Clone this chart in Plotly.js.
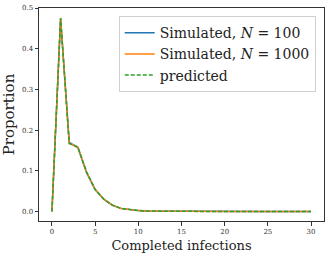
<!DOCTYPE html>
<html>
<head>
<meta charset="utf-8">
<script src="https://cdn.plot.ly/plotly-3.0.1.min.js"></script>
<style>html,body{margin:0;padding:0;background:#fff;}#chart{width:333px;height:257px;}</style>
</head>
<body>
<div id="chart"></div>
<script>
const completed = [0,1,2,3,4,5,6,7,8,9,10,11,12,13,14,15,16,17,18,19,20,21,22,23,24,25,26,27,28,29,30];
const simulated100 = [0,0.474,0.170,0.157,0.096,0.054,0.030,0.015,0.0075,0.004,0.002,0.001,0.0008,0.0005,0.0003,0.0001,0.0001,0,0,0,0,0,0,0,0,0,0,0,0,0,0];
const simulated1000 = [0,0.475,0.167,0.158,0.097,0.054,0.030,0.0155,0.0074,0.004,0.002,0.001,0.0007,0.0004,0.0002,0.0001,0.0001,0,0,0,0,0,0,0,0,0,0,0,0,0,0];
const predicted = [0,0.475,0.167,0.158,0.0975,0.054,0.030,0.0155,0.0074,0.004,0.002,0.001,0.0006,0.0003,0.0002,0.0001,0.0001,0,0,0,0,0,0,0,0,0,0,0,0,0,0];
const seriesNames = ["Simulated, <i>N</i> = 100", "Simulated, <i>N</i> = 1000", "predicted"];
const xTicks = [0,5,10,15,20,25,30];
const yTicks = [0.0,0.1,0.2,0.3,0.4,0.5];

const serif = "DejaVu Serif";
const traces = [
  {x: completed, y: simulated100, name: seriesNames[0], mode: "lines", line: {color: "#1f77b4", width: 1.5}},
  {x: completed, y: simulated1000, name: seriesNames[1], mode: "lines", line: {color: "#ff7f0e", width: 1.5}},
  {x: completed, y: predicted, name: seriesNames[2], mode: "lines", line: {color: "#2ca02c", width: 1.5, dash: "4px,2px"}}
];
const layout = {
  width: 333, height: 257,
  margin: {l: 39, r: 9, t: 8, b: 36},
  paper_bgcolor: "#fff", plot_bgcolor: "#fff",
  font: {family: serif, color: "#222"},
  showlegend: true,
  legend: {
    x: 0.971, xanchor: "right", y: 0.962, yanchor: "top",
    bgcolor: "rgba(255,255,255,0.8)", bordercolor: "#d0d0d0", borderwidth: 1,
    font: {family: serif, size: 14, color: "#222"},
    tracegroupgap: 0
  },
  xaxis: {
    range: [-1.5, 31.5], tickvals: xTicks, ticktext: xTicks.map(String),
    showgrid: false, zeroline: false, showline: true, mirror: true,
    linecolor: "#333", linewidth: 1, ticks: "outside", ticklen: 3.5, tickcolor: "#333",
    tickfont: {family: serif, size: 7, color: "#333"},
    title: {text: "Completed infections", font: {family: serif, size: 13, color: "#222"}, standoff: 5}
  },
  yaxis: {
    range: [-0.0235, 0.5], tickvals: yTicks, ticktext: yTicks.map(v => v.toFixed(1)),
    showgrid: false, zeroline: false, showline: true, mirror: true,
    linecolor: "#333", linewidth: 1, ticks: "outside", ticklen: 3.5, tickcolor: "#333",
    tickfont: {family: serif, size: 7, color: "#333"},
    title: {text: "Proportion", font: {family: serif, size: 15, color: "#222"}, standoff: 4}
  }
};
Plotly.newPlot("chart", traces, layout, {displayModeBar: false, staticPlot: true});
</script>
</body>
</html>
